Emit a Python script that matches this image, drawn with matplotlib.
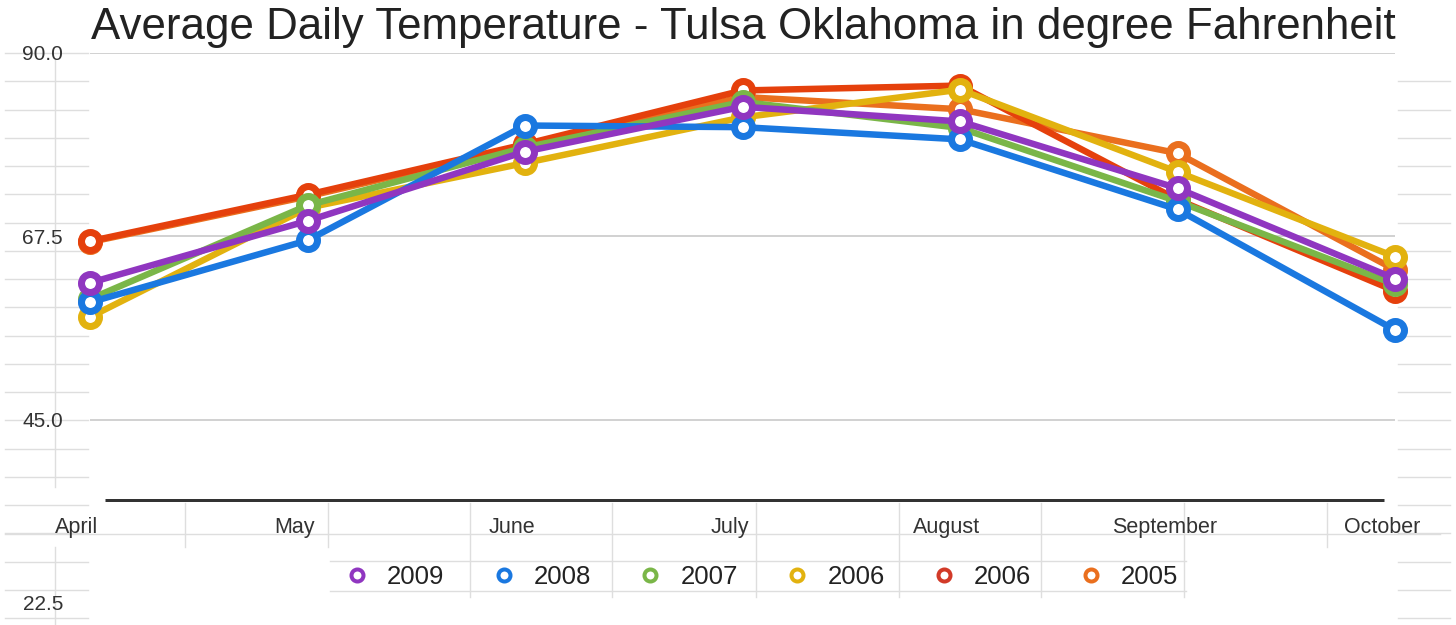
import matplotlib
matplotlib.use("Agg")
import matplotlib.pyplot as plt
from matplotlib.lines import Line2D

# ---- data ----
months = ["April", "May", "June", "July", "August", "September", "October"]
series_labels = ["2009", "2008", "2007", "2006", "2006", "2005"]
t2009 = [61.8, 69.4, 77.9, 83.4, 81.6, 73.4, 62.3]
t2008 = [59.4, 67.0, 81.1, 80.9, 79.4, 70.8, 56.0]
t2007 = [59.8, 71.3, 78.4, 84.0, 80.8, 71.8, 61.6]
t2006_yellow = [57.6, 71.0, 76.5, 82.1, 85.5, 75.4, 65.0]
t2006_red = [66.9, 72.6, 78.8, 85.4, 86.0, 72.0, 60.8]
t2005 = [66.8, 72.4, 78.6, 84.6, 83.1, 77.7, 63.4]
yticks = [22.5, 45.0, 67.5, 90.0]
title = "Average Daily Temperature - Tulsa Oklahoma in degree Fahrenheit"

series_values = [t2009, t2008, t2007, t2006_yellow, t2006_red, t2005]
colors = ["#9036c0", "#1a78e0", "#7ab648", "#e2b20f", "#e5400c", "#ea6f1e"]
legend_colors = ["#9036c0", "#1a78e0", "#7ab648", "#e2b20f", "#d23a28", "#ea6f1e"]

W, H = 1456, 625
fig = plt.figure(figsize=(W / 100, H / 100), dpi=100)
plt.rcParams["font.family"] = ["Liberation Sans", "DejaVu Sans"]

def px(v):
    return v * 72 / 100.0

# spreadsheet background lines (decorative, figure pixel coords)
grid_c = "#dedede"
def fline(x0, x1, y0, y1, c=grid_c, lw=1.4):
    fig.add_artist(Line2D([x0 / W, x1 / W], [1 - y0 / H, 1 - y1 / H],
                          color=c, lw=px(lw), zorder=0))

for k in range(0, 21):
    y = 53 + 28.25 * k
    fline(5, 88, y, y)
    if k >= 1:
        fline(1398, 1450, y, y)
fline(5, 1440, 534, 534)
fline(330, 1186, 561, 561)
fline(330, 1186, 591, 591)
fline(55, 55, 60, 487)
fline(55, 55, 547, 625)
for xv in [185, 328, 1327]:
    fline(xv, xv, 503, 547)
for xv in [470, 612, 756, 899, 1041, 1184]:
    fline(xv, xv, 503, 597)

ax = fig.add_axes([90 / W, 1 - 603 / H, (1395 - 90) / W, (603 - 53) / H])
ax.patch.set_alpha(0)
x = list(range(len(months)))
ax.set_xlim(0, len(months) - 1)
ax.set_ylim(yticks[0], yticks[-1])
for s in ax.spines.values():
    s.set_visible(False)

# chart gridlines
ax.hlines(yticks[1:], 0, len(months) - 1, color="#c4c4c4", lw=px(1.5), zorder=1)
# x baseline
ax.hlines(35.1, 0.07, 5.95, color="#333333", lw=px(3), zorder=2)

# series, drawn bottom-to-top (2009 on top)
n = len(series_labels)
for idx in range(n - 1, -1, -1):
    c = colors[idx]
    ax.plot(x, series_values[idx], color=c, lw=px(6.5), marker="o", ms=px(18),
            mew=px(7), mfc="white", mec=c, zorder=10 + (n - idx),
            clip_on=False, solid_joinstyle="round")

ax.set_xticks([])
ax.set_yticks(yticks)
ax.set_yticklabels([f"{v:.1f}" for v in yticks], fontsize=15, color="#333333")
ax.tick_params(axis="y", length=0, pad=px(27))

for i, m in enumerate(months):
    ax.text(i - 0.06, 31.8, m, ha="center", va="center", fontsize=15.5,
            color="#333333")

handles = [Line2D([], [], ls="none", marker="o", ms=px(12), mew=px(4),
                  mfc="white", mec=c) for c in legend_colors]
fig.legend(handles, series_labels, loc="center", ncol=6,
           bbox_to_anchor=(761 / W, 1 - 577 / H), frameon=False,
           fontsize=18.5, handlelength=1.0, handletextpad=0.67,
           columnspacing=1.81, labelcolor="#222222")

fig.text(743 / W, 1 - 28 / H, title, ha="center", va="center",
         fontsize=31.6, color="#222222")

fig.savefig("out.png", dpi=100)
